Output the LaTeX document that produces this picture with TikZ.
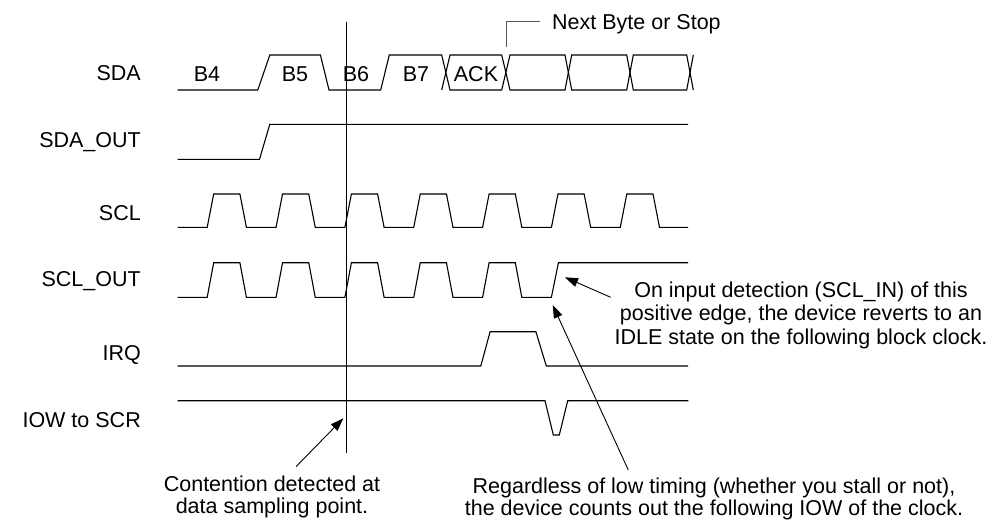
\documentclass[tikz,border=0pt]{standalone}
\usepackage{fontspec}
\setmainfont{Liberation Sans}
\usetikzlibrary{arrows.meta}
\begin{document}
\begin{tikzpicture}[x=1pt,y=-1pt,
  wave/.style={line width=1.1pt,line join=miter,black},
  callout/.style={line width=1.1pt,gray!70!black},
  note/.style={-{Triangle[length=13pt,width=9pt]},line width=0.9pt,black},
  lbl/.style={inner sep=0pt,font=\fontsize{21.5}{23.7}\selectfont},
]
\useasboundingbox (0,0) rectangle (988,525);
% ---------- signal labels ----------
\node[lbl,anchor=base east] (lsda)    at (141,80.7)  {SDA};
\node[lbl,anchor=base east] (lsdaout) at (141,147)   {SDA\_OUT};
\node[lbl,anchor=base east] (lscl)    at (141,220.7) {SCL};
\node[lbl,anchor=base east] (lsclout) at (141,286.7) {SCL\_OUT};
\node[lbl,anchor=base east] (lirq)    at (141,360.7) {IRQ};
\node[lbl,anchor=base east] (liow)    at (141,427)   {IOW to SCR};
% ---------- SDA ----------
\draw[wave] (177.6,90) -- (257.8,90) -- (269.8,55) -- (320.4,55) -- (329,90)
  -- (380.7,90) -- (389.3,55) -- (441.7,55) -- (450,90) -- (501.7,90) -- (510,55)
  -- (565,55) -- (571.7,90) -- (626.7,90) -- (633.3,55) -- (686.7,55) -- (693.3,90);
\draw[wave] (441.7,90) -- (450,55) -- (501.7,55) -- (510,90) -- (565,90)
  -- (571.7,55) -- (626.7,55) -- (633.3,90) -- (686.7,90) -- (693.3,55);
\node[lbl,anchor=base] (b4)  at (207,81.5) {B4};
\node[lbl,anchor=base] (b5)  at (295,81.5) {B5};
\node[lbl,anchor=base] (b6)  at (356,81.5) {B6};
\node[lbl,anchor=base] (b7)  at (416,81.5) {B7};
\node[lbl,anchor=base] (ack) at (476,81.5) {ACK};
% callout
\coordinate (cA) at (506.7,46.7);
\coordinate (cB) at (506.7,21.7);
\coordinate (cC) at (540,21.7);
\draw[callout] (cA) -- (cB) -- (cC);
\node[lbl,anchor=base west] (next) at (552,29.4) {Next Byte or Stop};
% ---------- SDA_OUT ----------
\draw[wave] (177.6,159.3) -- (259.5,159.3) -- (269.8,124.3) -- (688,124.3);
% ---------- SCL ----------
\draw[wave] (177.6,227.3) \foreach \k in {0,...,6}{
   -- ({207.2+68.85*\k},227.3) -- ({213.7+68.85*\k},194)
   -- ({239.9+68.85*\k},194) -- ({246.4+68.85*\k},227.3)} -- (688,227.3);
% ---------- SCL_OUT ----------
\draw[wave] (177.6,297.3) \foreach \k in {0,...,4}{
   -- ({207.2+68.85*\k},297.3) -- ({213.7+68.85*\k},262.7)
   -- ({239.9+68.85*\k},262.7) -- ({246.4+68.85*\k},297.3)}
   -- (551.4,297.3) -- (558.4,262.7) -- (688,262.7);
% ---------- IRQ ----------
\draw[wave] (177.6,366) -- (480.8,366) -- (490.1,331.7) -- (535.9,331.7)
  -- (546.3,366) -- (688,366);
% ---------- IOW ----------
\draw[wave] (177.6,400.7) -- (545,400.7) -- (553.3,435) -- (559.3,435)
  -- (567.7,400.7) -- (688.3,400.7);
% ---------- sampling line ----------
\coordinate (vt) at (346.5,21.7);
\coordinate (vb) at (346.5,452.7);
\draw[wave] (vt) -- (vb);
% ---------- annotations ----------
\coordinate (a1t) at (296,466.7);
\coordinate (a1h) at (343.3,418.3);
\draw[note] (a1t) -- (a1h);
\node[lbl,anchor=base] (cont1) at (272,491.5) {Contention detected at};
\node[lbl,anchor=base] (cont2) at (272,513.5) {data sampling point.};
\coordinate (a2t) at (628.3,470);
\coordinate (a2h) at (552.7,305);
\draw[note] (a2t) -- (a2h);
\node[lbl,anchor=base] (reg1) at (714,493) {Regardless of low timing (whether you stall or not),};
\node[lbl,anchor=base] (reg2) at (714,515.5) {the device counts out the following IOW of the clock.};
\coordinate (a3t) at (610.7,297.3);
\coordinate (a3h) at (565,277.3);
\draw[note] (a3t) -- (a3h);
\node[lbl,anchor=base] (on1) at (801,297) {On input detection (SCL\_IN) of this};
\node[lbl,anchor=base] (on2) at (801,320.5) {positive edge, the device reverts to an};
\node[lbl,anchor=base] (on3) at (801,344) {IDLE state on the following block clock.};
\end{tikzpicture}
\end{document}
